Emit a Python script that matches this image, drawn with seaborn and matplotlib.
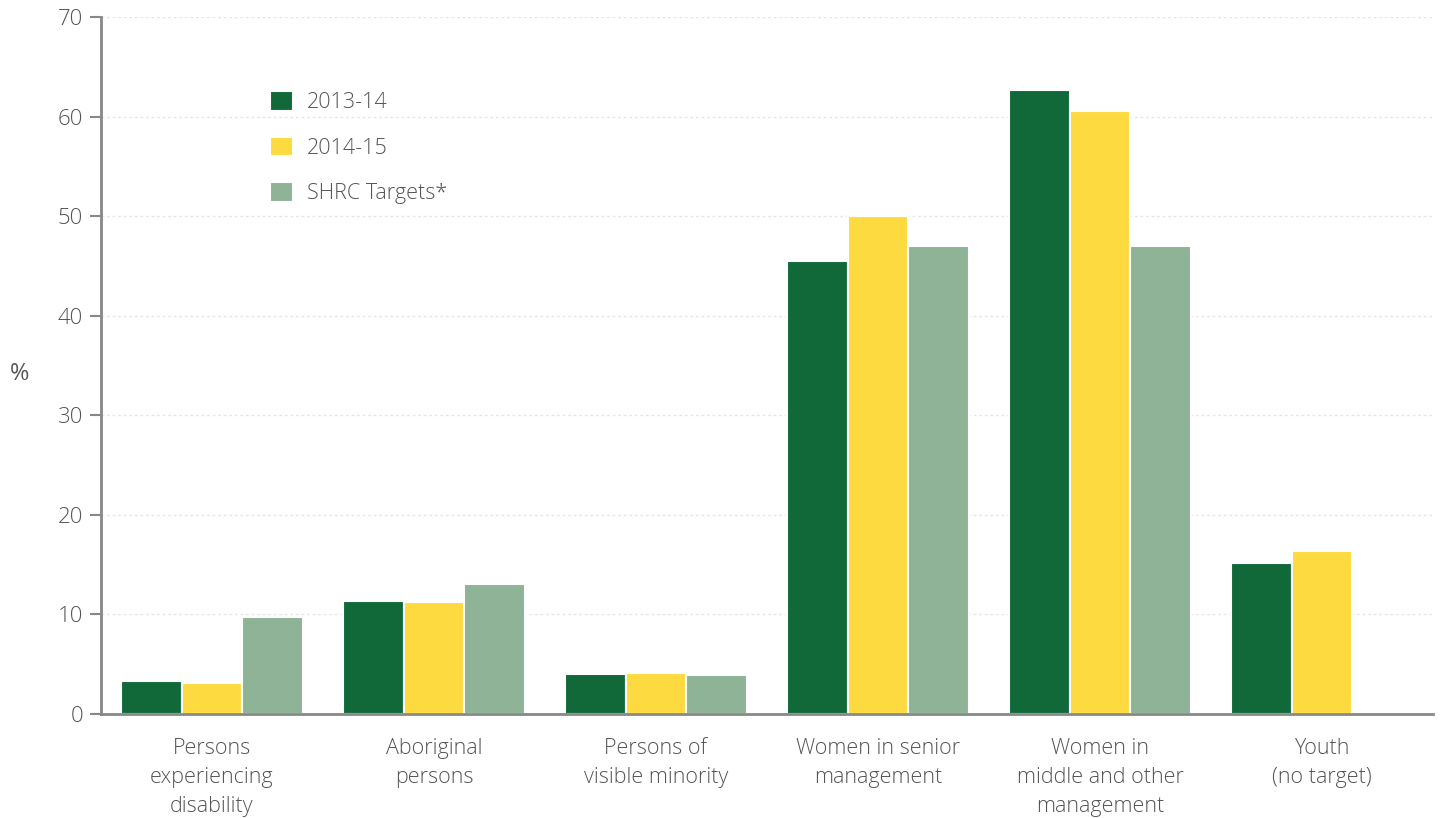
import matplotlib
matplotlib.use("Agg")
import matplotlib.pyplot as plt
import seaborn as sns
import pandas as pd
import numpy as np

categories = ["Persons\nexperiencing\ndisability", "Aboriginal\npersons", "Persons of\nvisible minority",
              "Women in senior\nmanagement", "Women in\nmiddle and other\nmanagement", "Youth\n(no target)"]
series_names = ["2013-14", "2014-15", "SHRC Targets*"]
v_2013 = [3.3, 11.4, 4.0, 45.5, 62.7, 15.2]
v_2014 = [3.1, 11.3, 4.1, 50.0, 60.6, 16.4]
v_target = [9.7, 13.1, 3.9, 47.0, 47.0, np.nan]
colors = ["#11693A", "#FDDB40", "#8EB396"]
yticks = [0, 10, 20, 30, 40, 50, 60, 70]

rows = []
for name, vals in zip(series_names, [v_2013, v_2014, v_target]):
    for c, v in zip(categories, vals):
        rows.append({"cat": c, "series": name, "value": v})
df = pd.DataFrame(rows)

sns.set_theme(style="white")
plt.rcParams["font.family"] = ["Open Sans", "DejaVu Sans"]
plt.rcParams["font.weight"] = 300
txt = "#555555"

fig = plt.figure(figsize=(14.42, 8.18), dpi=100)
ax = fig.add_axes([0.0700, 0.1271, 0.9238, 0.8521])
sns.barplot(data=df, x="cat", y="value", hue="series", order=categories, hue_order=series_names,
            palette=colors, width=0.82, edgecolor="white", linewidth=1.5, saturation=1,
            ax=ax, errorbar=None)
ax.set_xlim(-0.5, 5.5)
ax.set_ylim(0, 70)
ax.set_yticks(yticks)
ax.set_yticklabels([str(t) for t in yticks], fontsize=16, color=txt)
ax.tick_params(axis="y", left=True, length=8, width=1.5, color="#888888", pad=5)
ax.tick_params(axis="x", bottom=False, labelsize=15.5, labelcolor=txt, pad=11)
ax.yaxis.grid(True, color="#e6e6e6", linestyle=(0, (2, 2)), linewidth=1)
ax.set_axisbelow(True)
for s in ["top", "right"]:
    ax.spines[s].set_visible(False)
for s in ["left", "bottom"]:
    ax.spines[s].set_color("#888888")
    ax.spines[s].set_linewidth(2)
ax.set_xlabel("")
ax.set_ylabel("%", rotation=0, fontsize=17, color=txt)
ax.yaxis.set_label_coords(-0.061, 0.47)
for lab in ax.get_xticklabels():
    lab.set_linespacing(1.5)

leg = ax.legend(loc="upper left", bbox_to_anchor=(0.1205, 0.906), frameon=False, fontsize=15.5,
                handlelength=1.05, handleheight=1.05, labelspacing=1.07, handletextpad=0.65,
                borderaxespad=0)
for t in leg.get_texts():
    t.set_color(txt)

fig.savefig("out.png", dpi=100)
